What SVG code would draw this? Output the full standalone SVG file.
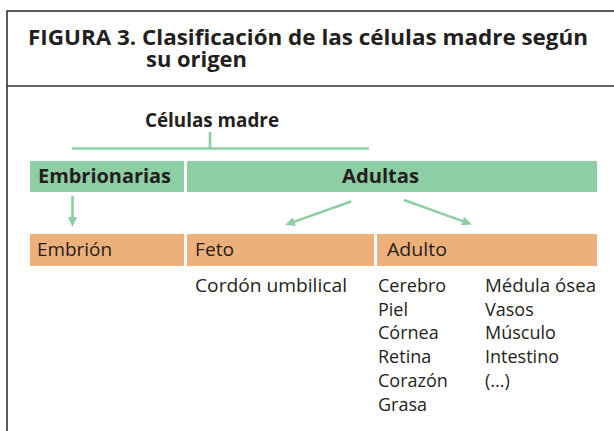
<svg xmlns="http://www.w3.org/2000/svg" width="614" height="431" viewBox="0 0 614 431">
<style>
  text { font-family: "Open Sans", "Noto Sans", "Liberation Sans", sans-serif; fill: #231f20; }
  .title { font-size: 22px; font-weight: bold; }
  .head { font-size: 20px; font-weight: bold; }
  .lbl { font-size: 18px; }
  .green { fill: #8dcea4; }
  .orange { fill: #eeb07b; }
  .conn { stroke: #8dcea4; stroke-width: 2.6; fill: none; }
  .frame { stroke: #333333; stroke-width: 1.6; fill: none; }
</style>
<defs>
  <marker id="ah" viewBox="0 0 10 9" refX="3" refY="4.5" markerWidth="10" markerHeight="9" markerUnits="userSpaceOnUse" orient="auto">
    <path d="M0,0 L10,4.5 L0,9 z" fill="#8dcea4"/>
  </marker>
</defs>

<g id="frame">
  <rect class="frame" x="7" y="11" width="620" height="430" fill="#ffffff"/>
  <line class="frame" x1="7" y1="86" x2="614" y2="86"/>
  <text class="title" x="28" y="45" textLength="560" lengthAdjust="spacingAndGlyphs">FIGURA 3. Clasificación de las células madre según</text>
  <text class="title" x="146" y="67" textLength="101" lengthAdjust="spacingAndGlyphs">su origen</text>
</g>

<g id="root">
  <text class="head" x="145" y="127" textLength="134" lengthAdjust="spacingAndGlyphs">Células madre</text>
</g>

<g id="embrionarias">
  <rect class="green" x="30" y="161" width="154" height="31"/>
  <text class="head" x="38" y="182.5" textLength="133" lengthAdjust="spacingAndGlyphs">Embrionarias</text>
</g>

<g id="adultas">
  <rect class="green" x="187" y="161" width="410" height="31"/>
  <text class="head" x="342" y="182.5" textLength="77" lengthAdjust="spacingAndGlyphs">Adultas</text>
</g>

<g id="embrion">
  <rect class="orange" x="30" y="234" width="154" height="32"/>
  <text class="lbl" x="37" y="256" textLength="75" lengthAdjust="spacingAndGlyphs">Embrión</text>
</g>

<g id="feto">
  <rect class="orange" x="187" y="234" width="187" height="32"/>
  <text class="lbl" x="195" y="256" textLength="39" lengthAdjust="spacingAndGlyphs">Feto</text>
  <text class="lbl" x="195" y="291.5" textLength="152" lengthAdjust="spacingAndGlyphs">Cordón umbilical</text>
</g>

<g id="adulto">
  <rect class="orange" x="377" y="234" width="220" height="32"/>
  <text class="lbl" x="387" y="256" textLength="60" lengthAdjust="spacingAndGlyphs">Adulto</text>
  <text class="lbl" x="378" y="291.5">Cerebro</text>
  <text class="lbl" x="378" y="315.5">Piel</text>
  <text class="lbl" x="378" y="339">Córnea</text>
  <text class="lbl" x="378" y="363">Retina</text>
  <text class="lbl" x="378" y="387">Corazón</text>
  <text class="lbl" x="378" y="411">Grasa</text>
  <text class="lbl" x="485" y="291.5" textLength="111" lengthAdjust="spacingAndGlyphs">Médula ósea</text>
  <text class="lbl" x="485" y="315.5">Vasos</text>
  <text class="lbl" x="485" y="339">Músculo</text>
  <text class="lbl" x="485" y="363">Intestino</text>
  <text class="lbl" x="485" y="387">(...)</text>
</g>

<g id="connectors">
  <line class="conn" x1="210" y1="132" x2="210" y2="148.5"/>
  <line class="conn" x1="72" y1="148.5" x2="369" y2="148.5"/>
  <line class="conn" x1="72.5" y1="196" x2="72.5" y2="220" marker-end="url(#ah)"/>
  <line class="conn" x1="351" y1="201.5" x2="291.6" y2="222.65" marker-end="url(#ah)"/>
  <line class="conn" x1="404" y1="200" x2="465.4" y2="222.1" marker-end="url(#ah)"/>
</g>
</svg>
